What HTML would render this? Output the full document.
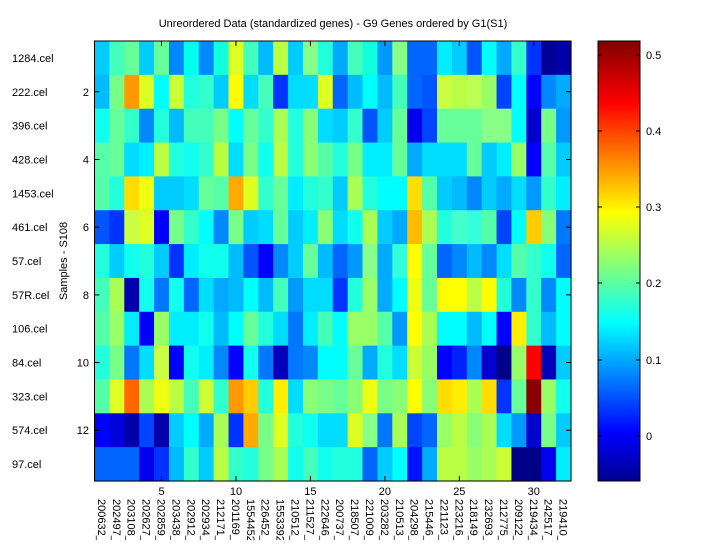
<!DOCTYPE html>
<html><head><meta charset="utf-8"><style>
body{margin:0;background:#fff;}
svg text{font-family:"Liberation Sans",sans-serif;fill:#000;}
</style></head><body>
<svg id="s" width="720" height="540" xmlns="http://www.w3.org/2000/svg">
<defs><linearGradient id="jet" x1="0" y1="1" x2="0" y2="0">
<stop offset="0" stop-color="#00008f"/><stop offset="0.11" stop-color="#0000ff"/>
<stop offset="0.36" stop-color="#00ffff"/><stop offset="0.61" stop-color="#ffff00"/>
<stop offset="0.86" stop-color="#ff0000"/><stop offset="1" stop-color="#800000"/>
</linearGradient></defs>
<g id="cells"></g>
<rect x="94.5" y="41" width="476.5" height="440" fill="none" stroke="#000" stroke-width="1"/>
<g id="ax"></g>
<text x="333" y="27" font-size="11" text-anchor="middle">Unreordered Data (standardized genes) - G9 Genes ordered by G1(S1)</text>
<text transform="translate(67,261) rotate(-90)" font-size="11" text-anchor="middle">Samples - S108</text>
<rect x="598" y="41" width="42" height="440" fill="url(#jet)" stroke="#000"/>
<g font-size="11">
<text x="646" y="59">0.5</text><text x="646" y="135">0.4</text><text x="646" y="211">0.3</text>
<text x="646" y="287">0.2</text><text x="646" y="364">0.1</text><text x="646" y="440">0</text>
</g>
<path d="M598 55h4M636 55h4M598 131h4M636 131h4M598 207h4M636 207h4M598 283h4M636 283h4M598 360h4M636 360h4M598 436h4M636 436h4" stroke="#000"/>
</svg>
<script>
const R=[
"0cf 4fb 6f9 0cf 6f9 08f 0fe 08f 1fd df2 4fb 0bf bf4 0cf 8f8 2fd 0af 4fb 1fd 09f 8f8 06f 06f 0ef 0cf 05f 0ff 0af 3fc 03f 009 00a",
"0bf 7f8 f90 df2 0ff cf3 2fd 3fc 0cf ff0 0df 4fb 03f 0df 0df df2 06f 0bf 0ff 0bf 4fb 06f 05f cf4 bf4 bf5 9f6 04f 0ff 00f 08f 0af",
"1fe 6f9 3fc 08f 2fd 0bf 4fb 4fb 7f8 0ff 6f9 3fc af5 2fd 8f7 0df 0cf 3fc 05f 0cf 6f9 00e 04f 6f9 6f9 6f9 8f8 8f8 0ff 00c 7f8 09f",
"5fa 6f9 0df 0ef bf4 2fd 1fe 3fc bf4 0df 7f8 1fe bf4 2fd 8f7 5fa 2fd 7f8 0ef 0ef 6f9 0af 0df 0df 0df 6f9 0cf 0ef 9f6 00f 5fa 0cf",
"5fa 2fd fd0 ef1 0cf 0cf 0df 6f9 5fa fa0 df2 3fc 6f9 0ef 2fd 3fc 0cf af5 2fd 0ff 0ff fd0 5fa 0cf 0bf 08f 0cf 0af 0df 09f 3fc 0ef",
"05f 03f cf4 df2 00f 7f8 3fc 0ff 08f 7f8 0cf 0df 6f9 0cf 0ef 8f7 0df 1fe af5 0cf 0af fb0 af5 2fd 4fc 3fd 5fa 04f 0ff fc0 8f7 07f",
"2fd 0cf 1fe 2fd 0cf 03f 0ef 1fe 1fe 0bf 05f 00f 08f 0cf 6f9 0bf 06f 09f 8f8 0af 3fd ff0 6f9 06f 08f 0bf 08f 0df 5fa 3fc 1fe 06f",
"4fb af5 00a 1fe 07f 1fe 06f 0df 0af 0bf 0ff 0bf 4fb 09f 0df 0df 03f 2fd 9f6 0af 0ff ef1 6f9 ff0 ff0 bf4 ff0 2fd 08f 3fc 08f 0ff",
"5fa 9f6 0ef 00f 9f6 0ef 0ef 1fe 0bf 0ff 6f9 2fd 0df 07f 0ef 4fb 0ff 9f6 9f6 5fa 09f ff0 af5 0ff 0ff 0bf 0ff 00f fe0 3fc 0bf 0ff",
"2fd 7f8 07f 0df cf4 00f 1fe 0ef 08f 00f 1fe 07f 00b 07f 08f 0ff 0ff 6f9 0af 2fd 0df cf3 9f6 00f 02f 08f 00c 008 9f6 f00 00b 0cf",
"5fa df2 f60 af5 ef1 bf4 4fb cf3 3fc f90 fc0 2fd fe0 0df 8f7 7f8 6f9 8f7 ef1 7f8 8f7 ff0 8f7 fd0 fe0 af5 fd0 03f 6f9 800 9f6 1fe",
"00f 00d 00a 04f 00a 0cf 0ff 0af af5 03f fa0 7f8 df2 2fd 1fe 0df 0df df2 8f8 07f af5 04f 06f 9f6 bf4 8f7 af5 0df 09f 00c 7f8 0cf",
"06f 06f 06f 00e 03f 0bf 3fc 0cf bf4 3fc 2fd 7f8 af5 1fe 4fb 1fe 2fd 2fd 06f 0cf 0ff 01f 0af bf4 bf4 9f6 af5 cf3 008 008 00e 0ef"];
const L=94.5,T=41,W=476.5/32,H=440/13;
let h="";
R.forEach((r,i)=>r.split(" ").forEach((c,j)=>{
h+=`<rect x="${(L+j*W).toFixed(2)}" y="${(T+i*H).toFixed(2)}" width="${(W+0.6).toFixed(2)}" height="${(H+0.6).toFixed(2)}" fill="#${c}"/>`;}));
document.getElementById("cells").innerHTML=h;
const names=["1284.cel","222.cel","396.cel","428.cel","1453.cel","461.cel","57.cel","57R.cel","106.cel","84.cel","323.cel","574.cel","97.cel"];
const genes=["200632_","202497_","203108_","202627_","202859_","203438_","202912_","202934_","212171_","201169_","1554452","226452_","1553392","210512_","211527_","222646_","200737_","218507_","221009_","203282_","210513_","204298_","215446_","221123_","223216_","218149_","232693_","212775_","209122_","219434_","242517_","219410_"];
let a="";
names.forEach((n,i)=>{const y=T+(i+0.5)*H;a+=`<text x="12" y="${y+4}" font-size="11">${n}</text>`;
if((i+1)%2==0){a+=`<text x="89" y="${y+4}" font-size="11" text-anchor="end">${i+1}</text><path d="M${L} ${y}h5M571 ${y}h-5" stroke="#000"/>`;}});
genes.forEach((g,j)=>{const x=L+(j+0.5)*W;a+=`<text transform="translate(${x-4},499) rotate(90)" font-size="11">${g}</text>`;
if((j+1)%5==0){a+=`<text x="${x}" y="495" font-size="11" text-anchor="middle">${j+1}</text><path d="M${x} 481v-5M${x} 41v5" stroke="#000"/>`;}});
document.getElementById("ax").innerHTML=a;
</script>
</body></html>
